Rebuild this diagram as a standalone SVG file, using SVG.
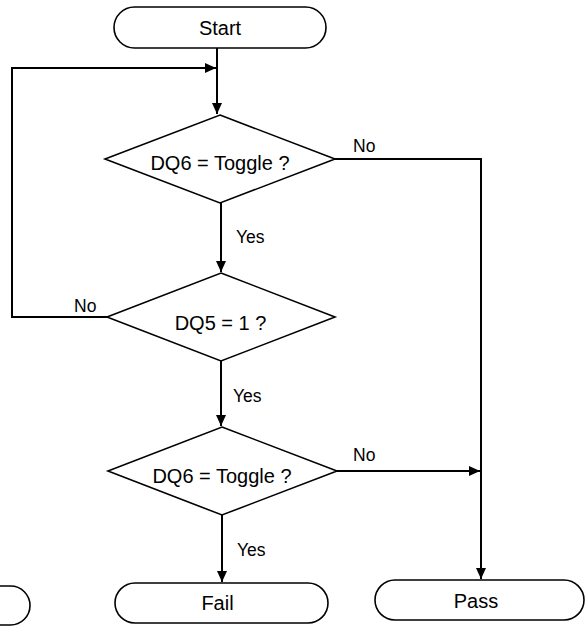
<svg xmlns="http://www.w3.org/2000/svg" width="585" height="629" viewBox="0 0 585 629">
<style>
.shape{fill:#ffffff;stroke:#000000;stroke-width:1.6}
.line{fill:none;stroke:#000000;stroke-width:2}
.node{font-family:"Liberation Sans",Arial,sans-serif;font-size:20px;fill:#000000;text-anchor:middle}
.lbl{font-family:"Liberation Sans",Arial,sans-serif;font-size:17.5px;fill:#000000}
</style>
<defs>
<marker id="arr" markerUnits="userSpaceOnUse" markerWidth="12" markerHeight="10" refX="11" refY="5" orient="auto">
<path d="M0,0 L11,5 L0,10 Z" fill="#000000"/>
</marker>
</defs>
<rect width="585" height="629" fill="#ffffff"/>
<g id="connectors">
<path class="line" d="M217,48 L217,114" marker-end="url(#arr)"/>
<path class="line" d="M107,317 L12,317 L12,68 L216,68" marker-end="url(#arr)"/>
<path class="line" d="M335,159 L481,159 L481,579" marker-end="url(#arr)"/>
<path class="line" d="M221,203 L221,272" marker-end="url(#arr)"/>
<path class="line" d="M221,361 L221,426" marker-end="url(#arr)"/>
<path class="line" d="M337,471 L480,471" marker-end="url(#arr)"/>
<path class="line" d="M222,515 L222,582" marker-end="url(#arr)"/>
<text class="lbl" x="353" y="152">No</text>
<text class="lbl" x="236" y="243">Yes</text>
<text class="lbl" x="74" y="312">No</text>
<text class="lbl" x="233" y="402">Yes</text>
<text class="lbl" x="353" y="461">No</text>
<text class="lbl" x="237" y="556">Yes</text>
</g>
<g id="start">
<rect class="shape" x="114" y="7" width="212" height="41" rx="20.5" ry="20.5"/>
<text class="node" x="220" y="35">Start</text>
</g>
<g id="dq6-toggle-1">
<polygon class="shape" points="220,115 335,159 220,203 105,159"/>
<text class="node" x="220" y="170">DQ6 = Toggle ?</text>
</g>
<g id="dq5">
<polygon class="shape" points="221,273 335,317 221,361 107,317"/>
<text class="node" x="220.5" y="330">DQ5 = 1 ?</text>
</g>
<g id="dq6-toggle-2">
<polygon class="shape" points="222,427 337,471 222,515 108,471"/>
<text class="node" x="222" y="483">DQ6 = Toggle ?</text>
</g>
<g id="left-terminal">
<rect class="shape" x="-182" y="586" width="212" height="39" rx="19.5" ry="19.5"/>
</g>
<g id="fail">
<rect class="shape" x="115" y="583" width="213" height="40" rx="20" ry="20"/>
<text class="node" x="217.5" y="610">Fail</text>
</g>
<g id="pass">
<rect class="shape" x="375" y="580" width="209" height="40" rx="20" ry="20"/>
<text class="node" x="476" y="608">Pass</text>
</g>
</svg>
